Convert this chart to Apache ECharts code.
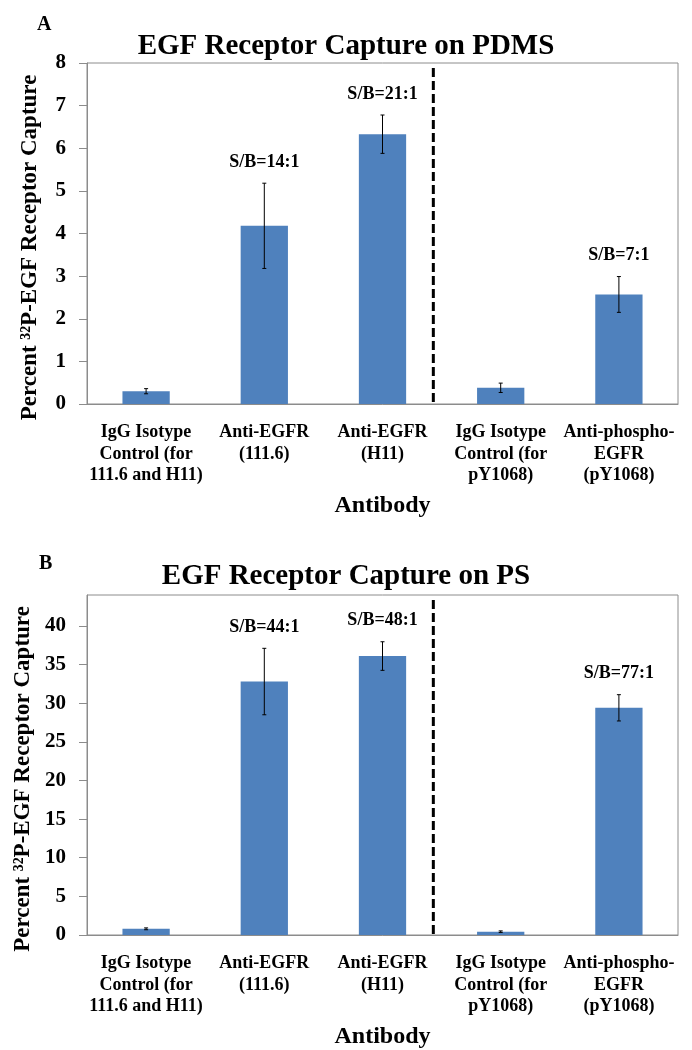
<!DOCTYPE html>
<html>
<head>
<meta charset="utf-8">
<script src="https://cdn.jsdelivr.net/npm/echarts@6/dist/echarts.min.js"></script>
<style>
    html, body { margin: 0; padding: 0; background: #fff; }
    #chart { width: 692px; height: 1050px; }
</style>
</head>
<body>
<div id="chart"></div>
<script>
// antibodies on the x axis (same for both panels)
const categories = [
    'IgG Isotype\nControl (for\n111.6 and H11)',
    'Anti-EGFR\n(111.6)',
    'Anti-EGFR\n(H11)',
    'IgG Isotype\nControl (for\npY1068)',
    'Anti-phospho-\nEGFR\n(pY1068)'
];
// panel A - PDMS
const pdmsValues = [0.30, 4.18, 6.33, 0.38, 2.57];
const pdmsErrors = [0.06, 1.00, 0.45, 0.11, 0.42];
const pdmsRatios = ['', 'S/B=14:1', 'S/B=21:1', '', 'S/B=7:1'];
// panel B - PS
const psValues = [0.80, 32.8, 36.1, 0.43, 29.4];
const psErrors = [0.12, 4.3, 1.85, 0.10, 1.7];
const psRatios = ['', 'S/B=44:1', 'S/B=48:1', '', 'S/B=77:1'];
// dashed divider sits after this category
const dividerAfter = 2;

const serif = 'Liberation Serif, Times New Roman, serif';
const barColor = '#4F81BD';
const axisGray = '#8c8c8c';

const chart = echarts.init(document.getElementById('chart'));

function errorBars(ratios) {
    return function (params, api) {
        const i = api.value(0);
        const v = api.value(1);
        const e = api.value(2);
        const hi = api.coord([i, v + e]);
        const lo = api.coord([i, v - e]);
        const style = { stroke: '#000', lineWidth: 1 };
        const children = [
            { type: 'line', shape: { x1: hi[0], y1: hi[1], x2: lo[0], y2: lo[1] }, style },
            { type: 'line', shape: { x1: hi[0] - 2, y1: hi[1], x2: hi[0] + 2, y2: hi[1] }, style },
            { type: 'line', shape: { x1: lo[0] - 2, y1: lo[1], x2: lo[0] + 2, y2: lo[1] }, style }
        ];
        const txt = ratios[params.dataIndex];
        if (txt) {
            children.push({
                type: 'text',
                style: {
                    text: txt, x: hi[0], y: hi[1] - 21,
                    align: 'center', verticalAlign: 'middle',
                    fill: '#000', font: 'bold 18px ' + serif
                }
            });
        }
        return { type: 'group', children };
    };
}

function divider(params, api) {
    const c = api.coord([api.value(0), 0]);
    const band = api.size([1, 0])[0];
    const x = c[0] + band * 0.43;
    return {
        type: 'line',
        shape: { x1: x, y1: params.coordSys.y + 5, x2: x, y2: c[1] },
        style: { stroke: '#000', lineWidth: 3, lineDash: [9, 4] }
    };
}

function xAxisFor(gridIndex) {
    return {
        type: 'category',
        gridIndex,
        data: categories,
        name: 'Antibody',
        nameLocation: 'middle',
        nameGap: 90,
        nameTextStyle: { fontFamily: serif, fontWeight: 'bold', fontSize: 24, color: '#000' },
        axisLine: { lineStyle: { color: axisGray, width: 1 } },
        axisTick: { length: 6, lineStyle: { color: axisGray } },
        axisLabel: {
            interval: 0, margin: 18, lineHeight: 21.5,
            fontFamily: serif, fontWeight: 'bold', fontSize: 18, color: '#000'
        }
    };
}

function yAxisFor(gridIndex, max, interval) {
    return {
        type: 'value',
        gridIndex,
        min: 0,
        max,
        interval,
        name: 'Percent \u00B3\u00B2P-EGF Receptor Capture',
        nameLocation: 'middle',
        nameGap: 45,
        nameTextStyle: {
            fontFamily: serif, fontWeight: 'bold', fontSize: 23, color: '#000',
            padding: [0, 28, 0, 0]
        },
        axisLine: { show: true, lineStyle: { color: axisGray, width: 1 } },
        axisTick: { show: true, length: 8, lineStyle: { color: axisGray } },
        splitLine: { show: false },
        axisLabel: {
            margin: 21, showMaxLabel: max % interval === 0,
            fontFamily: serif, fontWeight: 'bold', fontSize: 21, color: '#000'
        }
    };
}

function rows(values, errors) {
    return values.map((v, i) => [i, v, errors[i]]);
}

const option = {
    backgroundColor: '#fff',
    animation: false,
    title: [
        { text: 'A', left: 32, top: 10, textStyle: { fontFamily: serif, fontWeight: 'bold', fontSize: 20, color: '#000' } },
        { text: 'EGF Receptor Capture on PDMS', left: 'center', top: 27, textStyle: { fontFamily: serif, fontWeight: 'bold', fontSize: 29, color: '#000' } },
        { text: 'B', left: 34, top: 549, textStyle: { fontFamily: serif, fontWeight: 'bold', fontSize: 20, color: '#000' } },
        { text: 'EGF Receptor Capture on PS', left: 'center', top: 557, textStyle: { fontFamily: serif, fontWeight: 'bold', fontSize: 29, color: '#000' } }
    ],
    grid: [
        { left: 87, top: 63, width: 591, height: 341, show: true, borderColor: axisGray, borderWidth: 1, containLabel: false, outerBoundsMode: 'none' },
        { left: 87, top: 595, width: 591, height: 340, show: true, borderColor: axisGray, borderWidth: 1, containLabel: false, outerBoundsMode: 'none' }
    ],
    xAxis: [xAxisFor(0), xAxisFor(1)],
    yAxis: [yAxisFor(0, 8, 1), yAxisFor(1, 44, 5)],
    series: [
        {
            type: 'bar', xAxisIndex: 0, yAxisIndex: 0,
            data: pdmsValues, barWidth: '40%',
            itemStyle: { color: barColor }
        },
        {
            type: 'custom', xAxisIndex: 0, yAxisIndex: 0,
            renderItem: errorBars(pdmsRatios),
            data: rows(pdmsValues, pdmsErrors), z: 5
        },
        {
            type: 'custom', xAxisIndex: 0, yAxisIndex: 0,
            renderItem: divider, data: [[dividerAfter]], z: 6
        },
        {
            type: 'bar', xAxisIndex: 1, yAxisIndex: 1,
            data: psValues, barWidth: '40%',
            itemStyle: { color: barColor }
        },
        {
            type: 'custom', xAxisIndex: 1, yAxisIndex: 1,
            renderItem: errorBars(psRatios),
            data: rows(psValues, psErrors), z: 5
        },
        {
            type: 'custom', xAxisIndex: 1, yAxisIndex: 1,
            renderItem: divider, data: [[dividerAfter]], z: 6
        }
    ]
};

chart.setOption(option);
</script>
</body>
</html>
